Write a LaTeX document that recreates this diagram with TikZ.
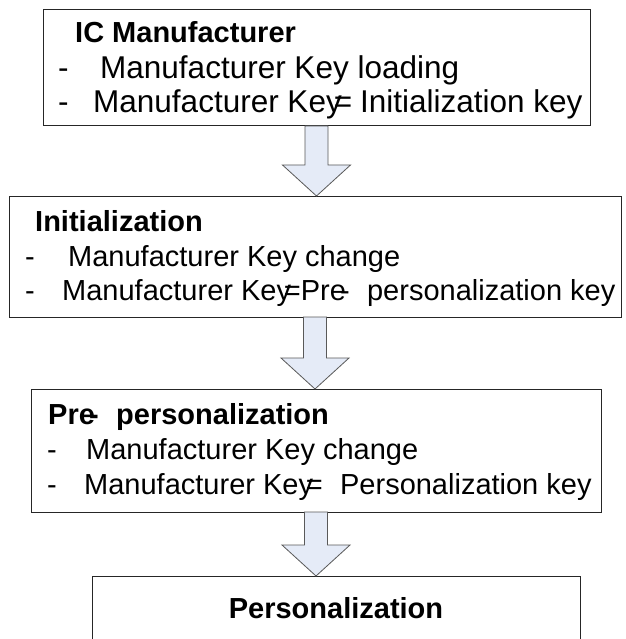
\documentclass[tikz,border=0pt]{standalone}
\usepackage{fontspec}
\setmainfont{Liberation Sans}
\usetikzlibrary{calc}

\definecolor{arrowfill}{RGB}{229,235,247}
\tikzset{
  keybox/.style={draw=black!85, line width=1pt, inner sep=0pt, outer sep=0pt, anchor=north west},
  keytext/.style={anchor=base west, inner sep=0pt, font=\fontsize{29}{34}\selectfont},
  bigtext/.style={keytext, font=\fontsize{31.5}{36}\selectfont},
  keytitle/.style={keytext, font=\fontsize{29}{34}\selectfont\bfseries}
}
\tikzset{keyarrow/.style={draw=black!65, fill=arrowfill, line width=0.8pt, line join=miter}}
% block arrow from the bottom of one box to the top of the next
\newcommand{\stagearrow}[2]{%
  \draw[keyarrow] let \p1=(#1.south), \p2=(#2.north) in
    (\x1-11.5pt,\y1) -- (\x1-11.5pt,\y2+31pt) -- (\x1-34pt,\y2+31pt) -- (\x1,\y2)
    -- (\x1+34pt,\y2+31pt) -- (\x1+11.5pt,\y2+31pt) -- (\x1+11.5pt,\y1) -- cycle;}

\begin{document}
\begin{tikzpicture}[x=1pt, y=-1pt]
    \path[use as bounding box, clip] (0,0) rectangle (625,639);
    \fill[white] (0,0) rectangle (625,639);

    % IC Manufacturer
    \node[keybox, minimum width=547pt, minimum height=116pt] (mfr) at (43,10) {};
    \node[keytitle] (mfrtitle) at (75,43) {IC Manufacturer};
    \node[bigtext] (mfrdasha) at (58,79) {-};
    \node[bigtext] (mfrlinea) at (100,79) {Manufacturer Key loading};
    \node[bigtext] (mfrdashb) at (58,113) {-};
    \node[bigtext] (mfrlineb) at (93,113) {Manufacturer Key\kern-0.25em=\hspace{0.25em}Initialization key};

    % Initialization
    \node[keybox, minimum width=612pt, minimum height=121pt] (init) at (9,196) {};
    \node[keytitle] (inittitle) at (35,231) {Initialization};
    \node[keytext] (initdasha) at (25,266) {-};
    \node[keytext] (initlinea) at (68,266) {Manufacturer Key change};
    \node[keytext] (initdashb) at (25,300) {-};
    \node[keytext] (initlineb) at (62,300) {Manufacturer Key\kern-0.25em=Pre\kern-0.2em-\hspace{0.6em}personalization key};

    % Pre-personalization
    \node[keybox, minimum width=570pt, minimum height=123pt] (prep) at (31,389) {};
    \node[keytitle] (preptitle) at (48,424) {Pre\kern-0.2em-\hspace{0.6em}personalization};
    \node[keytext] (prepdasha) at (47,459) {-};
    \node[keytext] (preplinea) at (86,459) {Manufacturer Key change};
    \node[keytext] (prepdashb) at (47,494) {-};
    \node[keytext] (preplineb) at (84,494) {Manufacturer Key\kern-0.25em=\hspace{0.6em}Personalization key};

    % Personalization
    \node[keybox, minimum width=488pt, minimum height=100pt] (pers) at (92,576) {};
    \node[keytitle, anchor=base] (perstitle) at (336,618) {Personalization};

    % arrows
    \stagearrow{mfr}{init}
    \stagearrow{init}{prep}
    \stagearrow{prep}{pers}
\end{tikzpicture}
\end{document}
